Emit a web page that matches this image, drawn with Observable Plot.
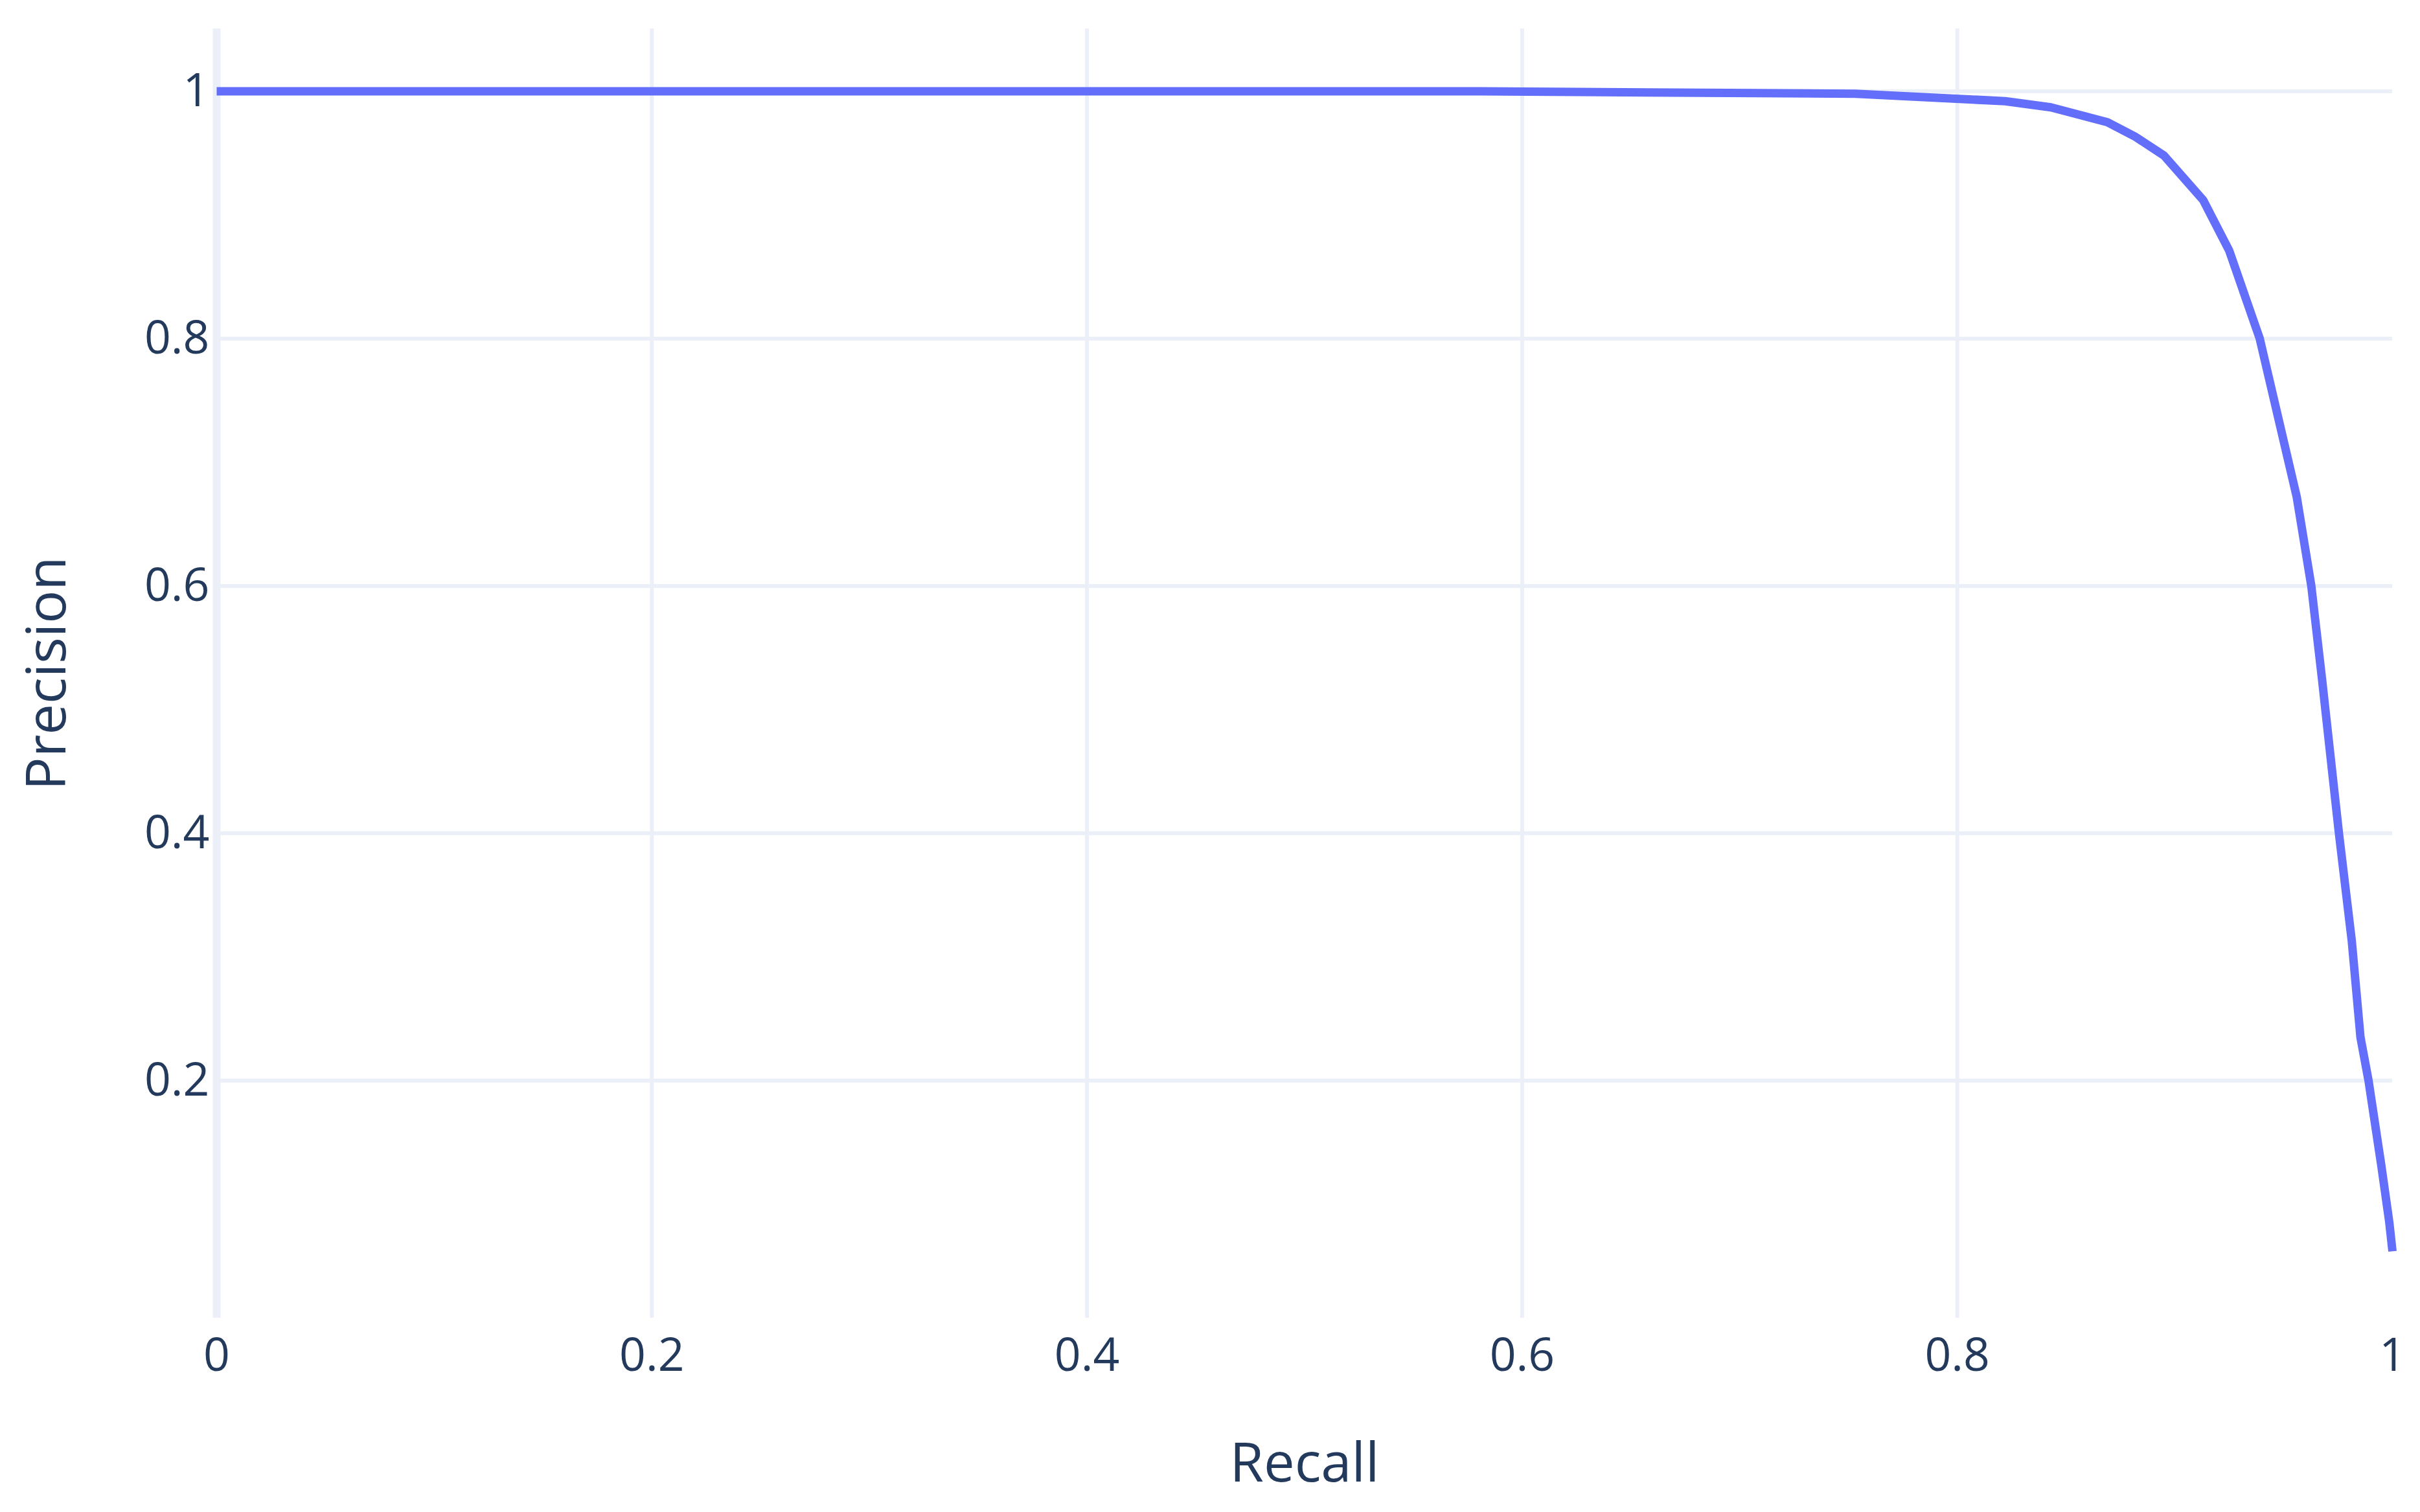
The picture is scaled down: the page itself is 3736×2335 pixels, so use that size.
<!DOCTYPE html>
<html>
<head>
<meta charset="utf-8">
<script src="https://cdn.jsdelivr.net/npm/d3@7"></script>
<script src="https://cdn.jsdelivr.net/npm/@observablehq/plot@0.6"></script>
<style>
  html, body { margin: 0; padding: 0; background: #ffffff; }
  #chart { width: 3736px; height: 2335px; }
</style>
</head>
<body>
<div id="chart"></div>
<script>
// Precision-recall curve values
const recall =    [0, 0.575, 0.753, 0.822, 0.843, 0.856, 0.869, 0.882, 0.895, 0.913, 0.925, 0.939, 0.956, 0.9627, 0.9676, 0.9754, 0.9813, 0.9853, 0.989, 0.9949, 0.9985, 1.0];
const precision = [1, 1, 0.998, 0.992, 0.987, 0.981, 0.975, 0.963, 0.948, 0.912, 0.871, 0.8, 0.672, 0.6, 0.525, 0.4, 0.313, 0.235, 0.2, 0.131, 0.086, 0.062];

const xTicks = [0, 0.2, 0.4, 0.6, 0.8, 1];
const xTickLabels = ["0", "0.2", "0.4", "0.6", "0.8", "1"];
const yTicks = [0.2, 0.4, 0.6, 0.8, 1];
const yTickLabels = ["0.2", "0.4", "0.6", "0.8", "1"];
const xGridTicks = [0.2, 0.4, 0.6, 0.8];

const xTitle = "Recall";
const yTitle = "Precision";

const data = recall.map((r, i) => ({recall: r, precision: precision[i]}));

const gridColor = "#EBF0F8";
const textColor = "#243a5c";

const chart = Plot.plot({
  width: 3736,
  height: 2335,
  marginLeft: 334,
  marginRight: 43,
  marginTop: 44,
  marginBottom: 300,
  style: {
    fontFamily: "'Open Sans', 'Noto Sans', sans-serif",
    fontSize: "71.5px",
    color: textColor,
    background: "#ffffff"
  },
  x: {domain: [0, 1]},
  y: {domain: [0.008, 1.0505]},
  marks: [
    Plot.gridY(yTicks, {stroke: gridColor, strokeOpacity: 1, strokeWidth: 6}),
    Plot.gridX(xGridTicks, {stroke: gridColor, strokeOpacity: 1, strokeWidth: 6}),
    Plot.ruleX([0], {stroke: gridColor, strokeWidth: 12}),
    Plot.axisX(xTicks, {
      tickSize: 0,
      tickPadding: 31,
      tickFormat: (d, i) => xTickLabels[i],
      fill: textColor,
      label: xTitle,
      labelAnchor: "center",
      labelArrow: "none",
      labelOffset: 252,
      fontSize: 71.5
    }),
    Plot.axisY(yTicks, {
      tickSize: 0,
      tickPadding: 11,
      tickFormat: (d, i) => yTickLabels[i],
      fill: textColor,
      label: null,
      fontSize: 71.5
    }),
    Plot.axisY([], {
      label: yTitle,
      labelAnchor: "center",
      labelArrow: "none",
      labelOffset: 294,
      fill: textColor,
      tickSize: 0
    }),
    Plot.line(data, {
      x: "recall",
      y: "precision",
      stroke: "#636efa",
      strokeWidth: 13,
      strokeLinecap: "butt",
      strokeLinejoin: "round"
    })
  ]
});

document.getElementById("chart").appendChild(chart);

// Axis titles are slightly larger than the tick labels
chart.querySelectorAll("g[aria-label='x-axis label'] text, g[aria-label='y-axis label'] text").forEach(t => {
  t.setAttribute("font-size", "85");
});
chart.querySelectorAll("g[aria-label='x-axis label'], g[aria-label='y-axis label']").forEach(g => {
  g.setAttribute("font-size", "85");
});
</script>
</body>
</html>
